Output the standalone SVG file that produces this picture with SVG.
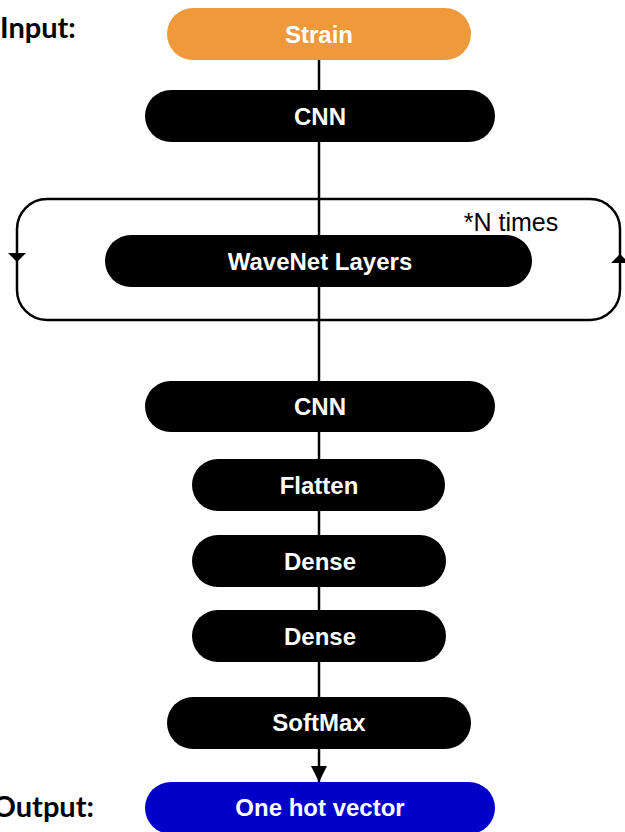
<svg xmlns="http://www.w3.org/2000/svg" width="625" height="832" viewBox="0 0 625 832">
<style>
.node{fill:#000}
.lbl{font-family:"Liberation Sans",Arial,sans-serif;font-weight:bold;font-size:24px;fill:#fff;text-anchor:middle;dominant-baseline:central}
.side{font-family:Lato,"Liberation Sans",sans-serif;font-weight:bold;font-size:29px;fill:#000}
.conn{stroke:#000;stroke-width:2.5;fill:none}
</style>
<defs>
<marker id="ah" viewBox="0 0 10 10" refX="10" refY="5" markerWidth="16" markerHeight="16" markerUnits="userSpaceOnUse" orient="auto">
<path d="M0,0 L10,5 L0,10 z" fill="#000"/>
</marker>
</defs>
<rect width="625" height="832" fill="#fff"/>
<g id="connectors">
<line class="conn" x1="319" y1="60" x2="319" y2="768"/>
<path d="M319,766 L319,782" class="conn" marker-end="url(#ah)"/>
<rect class="conn" x="17" y="199" width="603" height="121" rx="30" ry="30"/>
<polygon points="8,253 26,253 17,262" fill="#000"/>
<polygon points="611,263 629,263 620,254" fill="#000"/>
</g>
<g id="label-input"><text class="side" x="0" y="38">Input:</text></g>
<g id="label-output"><text class="side" x="94" y="817" text-anchor="end">Output:</text></g>
<g id="label-ntimes"><text x="511" y="222" font-family="Liberation Sans,Arial,sans-serif" font-size="25" text-anchor="middle" dominant-baseline="central" fill="#000">*N times</text></g>
<g id="strain"><rect x="167" y="8" width="304" height="52" rx="26" fill="#F0993A"/><text class="lbl" x="319" y="34">Strain</text></g>
<g id="cnn1"><rect class="node" x="145" y="90" width="350" height="52" rx="26"/><text class="lbl" x="320" y="116">CNN</text></g>
<g id="wavenet"><rect class="node" x="105" y="235" width="427" height="52" rx="26"/><text class="lbl" x="320" y="261">WaveNet Layers</text></g>
<g id="cnn2"><rect class="node" x="145" y="381" width="350" height="51" rx="25.5"/><text class="lbl" x="320" y="406">CNN</text></g>
<g id="flatten"><rect class="node" x="192" y="459" width="253" height="52" rx="26"/><text class="lbl" x="319" y="485">Flatten</text></g>
<g id="dense1"><rect class="node" x="192" y="535" width="254" height="52" rx="26"/><text class="lbl" x="320" y="561">Dense</text></g>
<g id="dense2"><rect class="node" x="192" y="610" width="254" height="52" rx="26"/><text class="lbl" x="320" y="636">Dense</text></g>
<g id="softmax"><rect class="node" x="167" y="697" width="304" height="52" rx="26"/><text class="lbl" x="319" y="722">SoftMax</text></g>
<g id="onehot"><rect x="145" y="782" width="350" height="52" rx="26" fill="#0000C8"/><text class="lbl" x="320" y="807">One hot vector</text></g>
</svg>
